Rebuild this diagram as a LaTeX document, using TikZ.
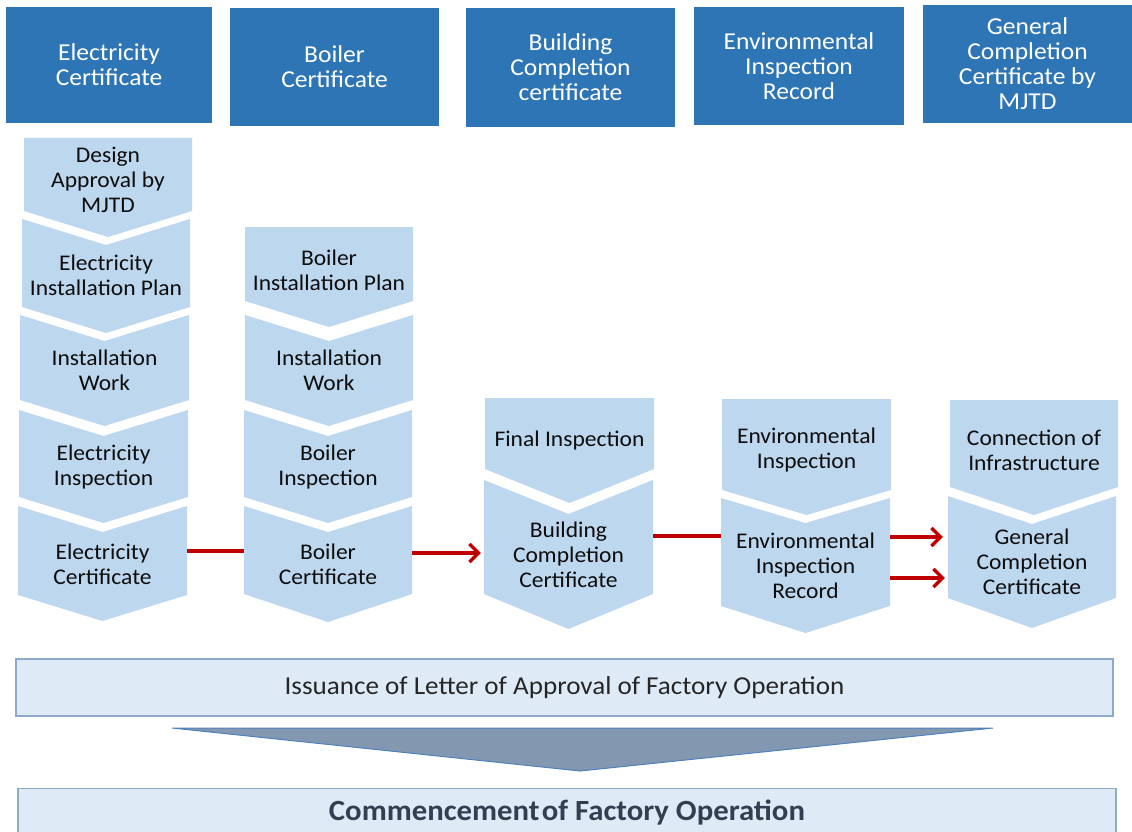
\documentclass[tikz,border=0pt]{standalone}
\usepackage{fontspec}
\setmainfont{Carlito}[FakeStretch=1.05]
\usetikzlibrary{arrows.meta}
\definecolor{hdrblue}{HTML}{2E75B6}
\definecolor{chevblue}{HTML}{BDD7EE}
\definecolor{barfill}{HTML}{DEEBF7}
\definecolor{barline}{HTML}{8EA9C9}
\definecolor{trifill}{HTML}{8497B0}
\definecolor{triline}{HTML}{4F81BD}
\definecolor{flowred}{HTML}{C00000}
\definecolor{bartext}{HTML}{333F50}
\tikzset{
  hdr/.style={fill=hdrblue, text=white, align=center, inner sep=0pt, font=\fontsize{24.3}{25}\selectfont},
  chevtext/.style={align=center, inner sep=0pt, text=black!95, font=\fontsize{22.4}{25}\selectfont},
  chevfill/.style={fill=chevblue},
  flow/.style={draw=flowred, line width=3.3pt},
  flowarrow/.style={flow, -{Straight Barb[length=9pt,width=18pt]}},
  bar/.style={fill=barfill, draw=barline, line width=1.2pt, inner sep=0pt},
}
% name, xl, xr, ytop, dtop, ybot, dbot, texty, text
\newcommand\chev[9]{%
  \fill[chevfill] (#2,#4) -- ({(#2+#3)/2},{#4+#5}) -- (#3,#4) -- (#3,#6) -- ({(#2+#3)/2},{#6+#7}) -- (#2,#6) -- cycle;
  \node[chevtext, minimum width={#3pt-#2pt}] (#1) at ({(#2+#3)/2},#8) {#9};
}
\begin{document}
\begin{tikzpicture}[x=1pt,y=-1pt]
\useasboundingbox (0,0) rectangle (1132,832);
% headers
\node[hdr, minimum width=206pt, minimum height=116pt] (h1) at (109,65) {Electricity\\Certificate};
\node[hdr, minimum width=209pt, minimum height=118pt] (h2) at (334.5,67) {Boiler\\Certificate};
\node[hdr, minimum width=209pt, minimum height=119pt] (h3) at (570.5,67.5) {Building\\Completion\\certificate};
\node[hdr, minimum width=210pt, minimum height=118pt] (h4) at (799,66) {Environmental\\Inspection\\Record};
\node[hdr, minimum width=209pt, minimum height=118pt] (h5) at (1027.5,64) {General\\Completion\\Certificate by\\MJTD};
% column 1
\chev{a1}{24}{192}{138}{0}{211}{26}{180}{Design\\Approval by\\MJTD}
\chev{a2}{22}{190}{219}{26}{307}{26}{275}{Electricity\\Installation Plan}
\chev{a3}{20}{189}{315}{26}{400}{26}{370}{Installation\\Work}
\chev{a4}{19}{188}{410}{26}{497}{26}{467}{Electricity\\Inspection}
\chev{a5}{18}{187}{506}{26}{595}{26}{564}{Electricity\\Certificate}
% column 2
\chev{b1}{245}{413}{227}{0}{301}{26}{270}{Boiler\\Installation Plan}
\chev{b2}{245}{413}{315}{26}{400}{26}{370}{Installation\\Work}
\chev{b3}{244}{412}{410}{26}{497}{26}{467}{Boiler\\Inspection}
\chev{b4}{244}{412}{506}{26}{594}{28}{564}{Boiler\\Certificate}
% column 3
\chev{c1}{485}{654}{398}{0}{469}{34}{441}{Final Inspection}
\chev{c2}{484}{653}{480}{34}{594}{35}{555}{Building\\Completion\\Certificate}
% column 4
\chev{d1}{722}{891}{399}{0}{490}{25}{450}{Environmental\\Inspection}
\chev{d2}{721}{890}{498}{25}{606}{27}{566}{Environmental\\Inspection\\Record}
% column 5
\chev{e1}{950}{1118}{400}{0}{487}{28}{450}{Connection of\\Infrastructure}
\chev{e2}{948}{1116}{496}{28}{598}{30}{562}{General\\Completion\\Certificate}
% connectors
\draw[flow] ([yshift=13pt]a5.east) -- ([yshift=13pt]b4.west);
\draw[flowarrow, shorten >=3pt] ([yshift=11pt]b4.east) -- ([yshift=2pt]c2.west);
\draw[flow] ([yshift=19pt]c2.east) -- ([yshift=30pt]d2.west);
\draw[flowarrow, shorten >=5pt] ([yshift=29pt]d2.east) -- ([yshift=25pt]e2.west);
\draw[flowarrow, shorten >=3pt] ([yshift=-12pt]d2.east) -- ([yshift=-16pt]e2.west);
% bottom
\node[bar, minimum width=1097pt, minimum height=57pt, text=black!85, font=\fontsize{25.8}{28}\selectfont] (issue) at (564.5,687.5) {Issuance of Letter of Approval of Factory Operation};
\filldraw[fill=trifill, draw=triline, line width=1pt] (172,728) -- (993,728) -- (580,771) -- cycle;
\node[bar, minimum width=1098pt, minimum height=64pt, anchor=north] (startbar) at (567,788) {};
\node[text=bartext, inner sep=0pt, font=\bfseries\fontsize{29.3}{32}\selectfont] (commence) at (567,812) {Commencement\hspace{0.08em}of Factory Operation};
\end{tikzpicture}
\end{document}
